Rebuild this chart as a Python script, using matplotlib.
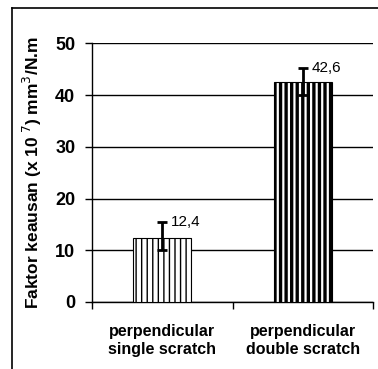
import matplotlib
matplotlib.use("Agg")
import matplotlib.pyplot as plt
from matplotlib.lines import Line2D

categories = ["perpendicular\nsingle scratch", "perpendicular\ndouble scratch"]
values = [12.4, 42.6]
err_low = [2.3, 2.5]
err_high = [3.0, 2.7]
value_labels = ["12,4", "42,6"]
yticks = [0, 10, 20, 30, 40, 50]

plt.rcParams['font.family'] = ['Liberation Sans', 'DejaVu Sans']

fig = plt.figure(figsize=(3.78, 3.69), dpi=100)
ax = fig.add_axes([0.2434, 0.1816, 0.7434, 0.7011])

x = list(range(len(categories)))
hatch_lw = [1.0, 2.4]
for i in x:
    with plt.rc_context({'hatch.linewidth': hatch_lw[i]}):
        b = ax.bar(x[i], values[i], width=0.414, color='white', edgecolor='black',
                   linewidth=0.8, hatch='|||', zorder=3)
        for p in b:
            if hasattr(p, 'set_hatch_linewidth'):
                p.set_hatch_linewidth(hatch_lw[i])
    ax.errorbar(x[i], values[i], yerr=[[err_low[i]], [err_high[i]]], fmt='none',
                ecolor='black', elinewidth=2, capsize=3.5, capthick=2, zorder=4)
    ax.text(x[i] + 0.06, values[i] + err_high[i] + 0.0, value_labels[i],
            fontsize=11, ha='left', va='center', zorder=5)

ax.set_xlim(-0.5, 1.5)
ax.set_ylim(0, 50)
ax.set_yticks(yticks)
ax.set_yticklabels([str(t) for t in yticks], fontsize=13, fontweight='bold')
ax.yaxis.grid(True, color='black', linewidth=1)
ax.set_axisbelow(True)

ax.set_xticks([-0.5, 0.5, 1.5])
ax.set_xticklabels([])
ax.set_xticks(x, minor=True)
ax.set_xticklabels(categories, minor=True, fontsize=11.5, fontweight='bold', linespacing=1.2)
ax.tick_params(axis='x', which='major', direction='out', length=5, width=1)
ax.tick_params(axis='x', which='minor', length=0, pad=16)
ax.tick_params(axis='y', direction='out', length=5, width=1, pad=7)

for s in ['top', 'right']:
    ax.spines[s].set_visible(False)
for s in ['left', 'bottom']:
    ax.spines[s].set_color('black')
    ax.spines[s].set_linewidth(1)

ax.set_ylabel("Faktor keausan (x 10$^{\\ 7}$) mm$^{3}$/N.m", fontsize=12.5,
              fontweight='bold', labelpad=8)

fig.add_artist(Line2D([12/378, 12/378], [0, 1 - 8/369], transform=fig.transFigure,
                      color='black', linewidth=1.2))
fig.add_artist(Line2D([12/378, 1], [1 - 8/369, 1 - 8/369], transform=fig.transFigure,
                      color='black', linewidth=1.2))

fig.savefig("out.png", dpi=100)
